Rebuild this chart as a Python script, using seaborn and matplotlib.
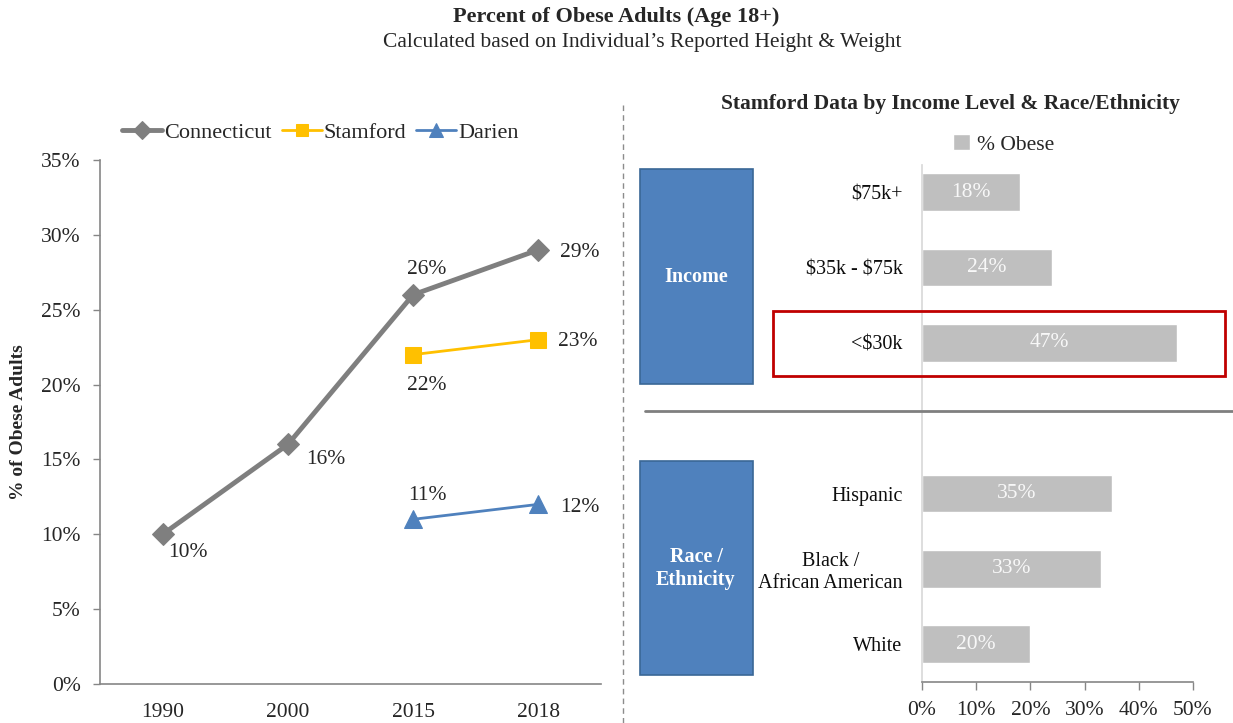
import numpy as np
import pandas as pd
import matplotlib
matplotlib.use("Agg")
import matplotlib.pyplot as plt
import matplotlib.patches as patches
import seaborn as sns

# data
years = ["1990", "2000", "2015", "2018"]
ct_years = ["1990", "2000", "2015", "2018"]
ct_vals = [0.10, 0.16, 0.26, 0.29]
stam_years = ["2015", "2018"]
stam_vals = [0.22, 0.23]
dar_years = ["2015", "2018"]
dar_vals = [0.11, 0.12]

bar_groups = ["$75k+", "$35k - $75k", "<$30k", "Hispanic", "Black /\nAfrican American", "White"]
bar_vals = [0.18, 0.24, 0.47, 0.35, 0.33, 0.20]
bar_order = ["$75k+", "$35k - $75k", "<$30k", " ", "Hispanic", "Black /\nAfrican American", "White"]

sns.set_theme(style="white")
plt.rcParams['font.family'] = ['Liberation Serif', 'DejaVu Serif']
plt.rcParams['text.parse_math'] = False

W, H = 1233, 723
fig = plt.figure(figsize=(W / 100, H / 100), dpi=100)


def fx(x):
    return x / W


def fy(y):
    return 1 - y / H


# titles
fig.text(fx(616), fy(17), "Percent of Obese Adults (Age 18+)", ha="center", va="center",
         fontsize=16, fontweight="bold")
fig.text(fx(642), fy(42), "Calculated based on Individual\u2019s Reported Height & Weight",
         ha="center", va="center", fontsize=15.5)

# ---- left: line chart ----
ax = fig.add_axes([fx(100), fy(684), fx(601) - fx(100), fy(160) - fy(684)])

series = [
    ("Connecticut", ct_years, ct_vals, "#7F7F7F", "D", 11, 3.5),
    ("Stamford", stam_years, stam_vals, "#FFC000", "s", 11, 2),
    ("Darien", dar_years, dar_vals, "#4F81BD", "^", 13, 2),
]
for name, yrs, vals, col, mk, ms, lw in series:
    df = pd.DataFrame({"pos": [years.index(y) for y in yrs], "val": vals})
    sns.lineplot(data=df, x="pos", y="val", color=col, marker=mk, markersize=ms,
                 markeredgecolor=col, linewidth=lw, label=name, ax=ax)

# point labels (offsets in points)
offsets = {
    "Connecticut": [(18, -13), (27, -11), (10, 18), (30, -2)],
    "Stamford": [(10, -22), (28, -1)],
    "Darien": [(10, 17), (30, -2)],
}
for name, yrs, vals, col, mk, ms, lw in series:
    for y, v, off in zip(yrs, vals, offsets[name]):
        ax.annotate(f"{v:.0%}", (years.index(y), v), xytext=off, textcoords="offset points",
                    ha="center", va="center", fontsize=15.5, color="#262626")

ax.set_xlim(-0.5, 3.5)
ax.set_ylim(0, 0.35)
ax.set_yticks(np.arange(0, 0.351, 0.05))
ax.set_yticklabels([f"{t:.0%}" for t in np.arange(0, 0.351, 0.05)], fontsize=15.5, color="#262626")
ax.set_xticks(range(len(years)))
ax.set_xticklabels(years, fontsize=15.5, color="#262626")
ax.set_xticks(np.arange(-0.5, 3.6, 1), minor=True)
ax.tick_params(axis="x", which="major", length=0, pad=14)
ax.tick_params(axis="x", which="minor", length=6, color="#868686", width=1)
ax.tick_params(axis="y", length=5, color="#868686", width=1, left=True, pad=9)
ax.set_xlabel("")
ax.set_ylabel("% of Obese Adults", fontsize=14, fontweight="bold", labelpad=10)
for s in ["top", "right"]:
    ax.spines[s].set_visible(False)
for s in ["left", "bottom"]:
    ax.spines[s].set_color("#868686")
    ax.spines[s].set_linewidth(1.2)
ax.legend(loc="center", bbox_to_anchor=(0.44, 1.052), ncol=3, frameon=False, fontsize=16,
          handlelength=1.8, handletextpad=0.1, columnspacing=0.45, markerscale=0.8)

# separator
fig.add_artist(plt.Line2D([fx(623), fx(623)], [fy(105), 0], color="#8C8C8C", lw=1,
                          linestyle=(0, (4, 3))))

# ---- right: bar chart ----
fig.text(fx(950), fy(104), "Stamford Data by Income Level & Race/Ethnicity", ha="center",
         va="center", fontsize=15.5, fontweight="bold")

ax2 = fig.add_axes([fx(922), fy(682), fx(1193) - fx(922), fy(165) - fy(682)])
bar_df = pd.DataFrame({"group": bar_groups, "pct": bar_vals, "lab": "% Obese"})
sns.barplot(data=bar_df, x="pct", y="group", order=bar_order, hue="lab",
            palette={"% Obese": "#BFBFBF"}, width=0.5, ax=ax2, saturation=1)
ax2.bar_label(ax2.containers[0], fmt="{:.0%}", label_type="center", color="#F8F8F8",
              fontsize=15.5)
ax2.set_xlim(0, 0.5)
ax2.set_ylim(6.5, -0.36)
ax2.set_xticks(np.arange(0, 0.51, 0.1))
ax2.set_xticklabels([f"{t:.0%}" for t in np.arange(0, 0.51, 0.1)], fontsize=15.5, color="#262626")
ax2.tick_params(axis="x", length=6, color="#868686", width=1, bottom=True, pad=8)
ax2.tick_params(axis="y", length=0, pad=14, labelsize=14.5)
for lbl in ax2.get_yticklabels():
    lbl.set_multialignment("center")
    lbl.set_color("#0D0D0D")
ax2.set_xlabel("")
ax2.set_ylabel("")
for s in ["top", "right"]:
    ax2.spines[s].set_visible(False)
ax2.spines["left"].set_color("#D9D9D9")
ax2.spines["bottom"].set_color("#868686")
ax2.spines["bottom"].set_linewidth(1.2)
ax2.legend(loc="center", bbox_to_anchor=(0.3, 1.04), frameon=False, fontsize=15.5,
           handlelength=0.8, handleheight=0.8, handletextpad=0.3)

# group boxes
for (y0, y1, txt) in [(169, 384, "Income"), (461, 675, "Race /\nEthnicity")]:
    fig.add_artist(patches.Rectangle((fx(640), fy(y1)), fx(753) - fx(640), fy(y0) - fy(y1),
                                     facecolor="#4F81BD", edgecolor="#3A6796", lw=1.2))
    fig.text(fx(696), fy((y0 + y1) / 2), txt, ha="center", va="center", color="white",
             fontsize=14.5, fontweight="bold")

# highlight box and divider
fig.add_artist(patches.Rectangle((fx(773), fy(376)), fx(1225) - fx(773), fy(311) - fy(376),
                                 facecolor="none", edgecolor="#C00000", lw=2))
fig.add_artist(plt.Line2D([fx(645), 1], [fy(411), fy(411)], color="#7F7F7F", lw=2))

fig.savefig("out.png", dpi=100)
